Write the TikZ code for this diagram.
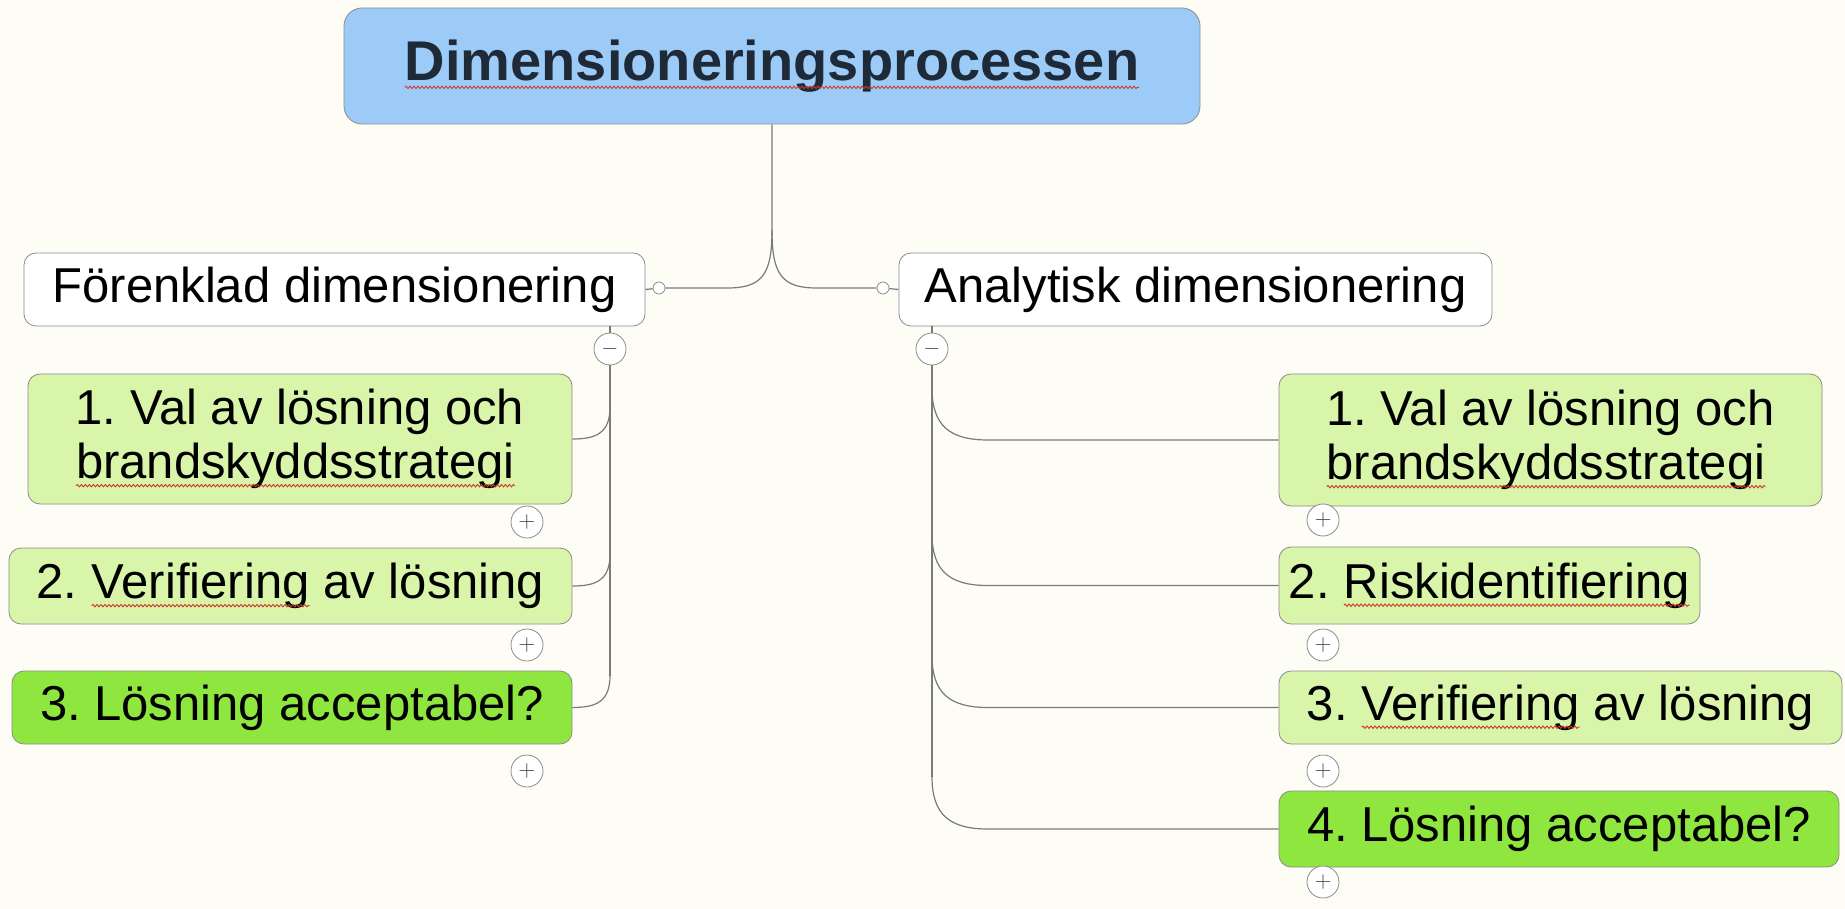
\documentclass[tikz,border=0pt]{standalone}
\usepackage{fontspec}
\setmainfont{Liberation Sans}
\usetikzlibrary{calc,decorations.pathmorphing}

\definecolor{bgcream}{HTML}{FDFDF5}
\definecolor{rootblue}{HTML}{9DCBF8}
\definecolor{rootink}{HTML}{1E2A38}
\definecolor{palegreen}{HTML}{D9F5A9}
\definecolor{brightgreen}{HTML}{8EE63E}
\definecolor{boxgray}{HTML}{8C8C8C}
\definecolor{linegray}{HTML}{7A7A7A}
\definecolor{wavered}{HTML}{CC3A2A}

% wavy spell-check underline
\newcommand\spellwave[1]{\tikz[baseline=(w.base), x=1pt, y=1pt]{%
  \node[draw=none, fill=none, rectangle, inner sep=0pt, outer sep=0pt,
    minimum width=0pt, minimum height=0pt, anchor=base] (w) {#1};
  \draw[wavered, line width=0.45pt, sharp corners, decorate,
    decoration={snake, amplitude=0.6pt, segment length=2pt}]
    ([yshift=-3.5pt]w.base west) -- ([yshift=-3.5pt]w.base east);}}

\begin{document}
\frenchspacing
\begin{tikzpicture}[x=0.5pt, y=-0.5pt,
  box/.style={draw=boxgray, rounded corners=6pt, inner sep=2pt, align=left,
    font=\fontsize{24.5}{27}\selectfont},
  toggle/.style={draw=boxgray, fill=white, circle, inner sep=0pt, minimum size=16pt,
    text=black!70, font=\fontsize{11}{11}\selectfont},
  knob/.style={draw=boxgray, fill=white, circle, inner sep=0pt, minimum size=6pt},
  link/.style={draw=linegray, line width=0.6pt}]
\fill[bgcream] (0,0) rectangle (1845,909);
\useasboundingbox (0,0) rectangle (1845,909);

\node[box, fill=rootblue, rounded corners=9pt, minimum width=428pt, minimum height=58pt,
  align=center, text=rootink, font=\fontsize{28}{30}\selectfont\bfseries] (root) at (772,66)
  {\spellwave{Dimensioneringsprocessen}};

\node[box, fill=white, minimum width=310.5pt, minimum height=36.5pt] (simple) at (334.5,289.5) {Förenklad dimensionering};
\node[box, fill=white, minimum width=296.5pt, minimum height=36.5pt] (analytic) at (1195.5,289.5) {Analytisk dimensionering};

\node[box, fill=palegreen, minimum width=272pt, minimum height=65pt] (s1) at (300,439) {1. Val av lösning och\\\spellwave{brandskyddsstrategi}};
\node[box, fill=palegreen, minimum width=281.5pt, minimum height=38pt] (s2) at (290.5,586) {2. \spellwave{Verifiering} av lösning};
\node[box, fill=brightgreen, minimum width=280pt, minimum height=36.5pt] (s3) at (292,707.5) {3. Lösning acceptabel?};

\node[box, fill=palegreen, minimum width=271.5pt, minimum height=66pt] (a1) at (1550.5,440) {1. Val av lösning och\\\spellwave{brandskyddsstrategi}};
\node[box, fill=palegreen, minimum width=210.5pt, minimum height=38.5pt] (a2) at (1489.5,585.5) {2. \spellwave{Riskidentifiering}};
\node[box, fill=palegreen, minimum width=281.5pt, minimum height=36.5pt] (a3) at (1560.5,707.5) {3. \spellwave{Verifiering} av lösning};
\node[box, fill=brightgreen, minimum width=280pt, minimum height=38pt] (a4) at (1559,829) {4. Lösning acceptabel?};

\node[knob] (sknob) at (659,288) {};
\node[knob] (aknob) at (883,288) {};
\node[toggle] (sminus) at (610,349) {$-$};
\node[toggle] (aminus) at (932,349) {$-$};

% root splits into the two methods
\coordinate (fork) at (772,230);
\draw[link] (root.south) -- (fork) .. controls (772,275) and (762,288) .. (727,288) -- (sknob);
\draw[link] (fork) .. controls (772,275) and (782,288) .. (817,288) -- (aknob);
\draw[link] (sknob) -- (simple.east);
\draw[link] (aknob) -- (analytic.west);
\draw[link] (simple.south -| sminus) -- (sminus);
\draw[link] (analytic.south -| aminus) -- (aminus);

% left steps
\draw[link] (sminus.south) -- ($(sminus |- s3.east)+(0,-32)$);
\foreach \n in {s1,s2,s3}
  \draw[link] (sminus |- \n.east) ++(0,-32) .. controls +(0,26) and +(24,0) .. (\n.east);

% right steps
\draw[link] (aminus.south) -- ($(aminus |- a4.west)+(0,-52)$);
\foreach \n in {a1,a2,a3,a4}
  \draw[link] (aminus |- \n.west) ++(0,-52) .. controls +(0,38) and +(-38,0) .. ++(56,52) -- (\n.west);

\node[toggle] (s1plus) at (527,522) {$+$};
\node[toggle] (s2plus) at (527,645) {$+$};
\node[toggle] (s3plus) at (527,771) {$+$};
\node[toggle] (a1plus) at (1323,520) {$+$};
\node[toggle] (a2plus) at (1323,645) {$+$};
\node[toggle] (a3plus) at (1323,771) {$+$};
\node[toggle] (a4plus) at (1323,882) {$+$};
\end{tikzpicture}
\end{document}
